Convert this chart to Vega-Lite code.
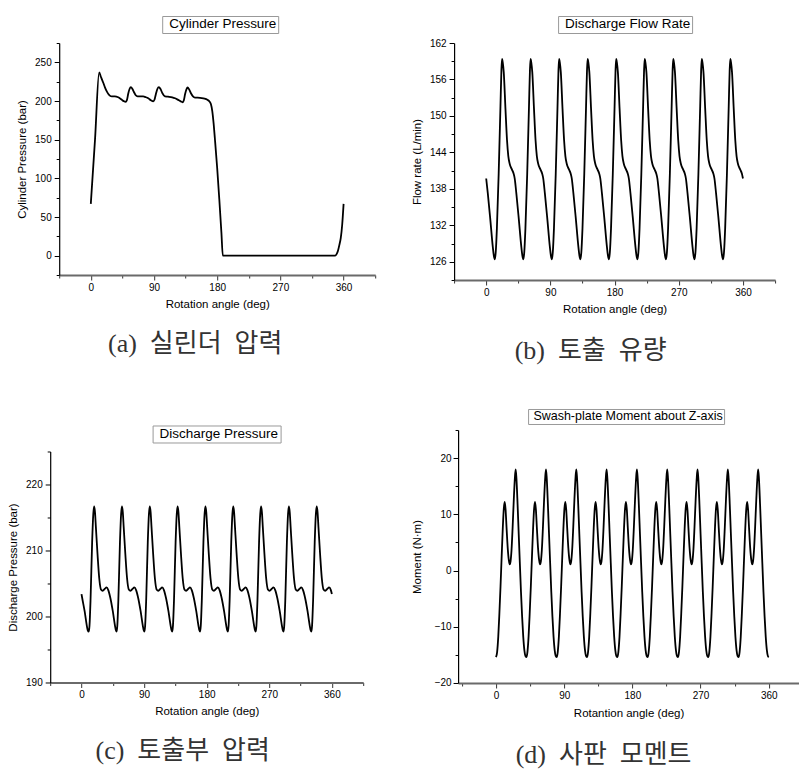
{
"$schema": "https://vega.github.io/schema/vega-lite/v6.json",
"background": "#ffffff",
"padding": {"left": 1.2, "top": 15, "right": 0, "bottom": 0},
"config": {
 "view": {"stroke": null},
 "font": "Liberation Sans",
 "axis": {"grid": false, "labelFont": "Liberation Sans", "labelFontSize": 10, "labelColor": "#000000", "titleFont": "Liberation Sans", "titleFontSize": 11.5, "titleFontWeight": "normal", "titleColor": "#000000", "labelOverlap": false, "labelFlush": false},
 "title": {"font": "Liberation Serif, Noto Sans CJK KR", "fontSize": 26, "fontWeight": "normal", "color": "#333333", "orient": "bottom", "anchor": "middle", "frame": "group"}
},
"datasets": {
"a": [{"x":0,"y":67},{"x":6,"y":150},{"x":11.9,"y":237},{"x":14.5,"y":231},{"x":17.6,"y":224},{"x":20,"y":218},{"x":22.4,"y":213},{"x":25,"y":209},{"x":27.1,"y":207},{"x":30,"y":206},{"x":34.2,"y":206},{"x":39,"y":204.8},{"x":43.8,"y":201.8},{"x":47,"y":199.8},{"x":49.5,"y":199},{"x":51.5,"y":201.5},{"x":53.2,"y":209},{"x":55.2,"y":215.5},{"x":57.1,"y":218},{"x":59.3,"y":215.5},{"x":61.8,"y":211},{"x":64,"y":207.5},{"x":66.6,"y":206},{"x":70,"y":206},{"x":74.6,"y":206},{"x":78,"y":205},{"x":81.8,"y":203.5},{"x":85.5,"y":201},{"x":88.9,"y":199.6},{"x":90.8,"y":202},{"x":92.7,"y":209},{"x":94.8,"y":215.5},{"x":97,"y":218},{"x":99.3,"y":215.5},{"x":102,"y":210},{"x":105.6,"y":206},{"x":110,"y":205.6},{"x":116,"y":204.8},{"x":120,"y":203.5},{"x":123.7,"y":201.8},{"x":127.5,"y":199.8},{"x":130.8,"y":198.4},{"x":132.5,"y":201},{"x":134.3,"y":209},{"x":136.2,"y":215},{"x":137.9,"y":217.5},{"x":140,"y":215},{"x":142.6,"y":210},{"x":145.5,"y":206},{"x":148.4,"y":204.4},{"x":152,"y":204.3},{"x":158,"y":203.8},{"x":162,"y":203},{"x":166,"y":201.5},{"x":169,"y":199.5},{"x":171,"y":196},{"x":173,"y":187},{"x":175,"y":170},{"x":177,"y":148},{"x":180,"y":113},{"x":183,"y":73},{"x":186,"y":30},{"x":188,"y":0},{"x":348,"y":0},{"x":350,"y":2},{"x":352,"y":6.5},{"x":354,"y":14},{"x":356,"y":23},{"x":358,"y":40},{"x":360,"y":67}],
"b": [{"x":0,"y":139.7},{"x":2.3,"y":137.2},{"x":5.5,"y":133.3},{"x":9.3,"y":128.4},{"x":10.7,"y":127},
{"x":12,"y":126.4},{"x":13.4,"y":127.6},{"x":15,"y":131.5},{"x":17.5,"y":140.5},{"x":20,"y":151.6},{"x":21.3,"y":157.4},{"x":22.2,"y":159.4},{"x":23.2,"y":158.8},{"x":24.6,"y":157.2},{"x":27,"y":151.2},{"x":29.2,"y":146},{"x":31,"y":143.4},{"x":33,"y":142.1},{"x":36,"y":141.2},{"x":38.5,"y":140.5},{"x":40,"y":139.7},{"x":42.3,"y":137.2},{"x":45.5,"y":133.3},{"x":49.3,"y":128.4},{"x":50.7,"y":127},
{"x":52,"y":126.4},{"x":53.4,"y":127.6},{"x":55,"y":131.5},{"x":57.5,"y":140.5},{"x":60,"y":151.6},{"x":61.3,"y":157.4},{"x":62.2,"y":159.4},{"x":63.2,"y":158.8},{"x":64.6,"y":157.2},{"x":67,"y":151.2},{"x":69.2,"y":146},{"x":71,"y":143.4},{"x":73,"y":142.1},{"x":76,"y":141.2},{"x":78.5,"y":140.5},{"x":80,"y":139.7},{"x":82.3,"y":137.2},{"x":85.5,"y":133.3},{"x":89.3,"y":128.4},{"x":90.7,"y":127},
{"x":92,"y":126.4},{"x":93.4,"y":127.6},{"x":95,"y":131.5},{"x":97.5,"y":140.5},{"x":100,"y":151.6},{"x":101.3,"y":157.4},{"x":102.2,"y":159.4},{"x":103.2,"y":158.8},{"x":104.6,"y":157.2},{"x":107,"y":151.2},{"x":109.2,"y":146},{"x":111,"y":143.4},{"x":113,"y":142.1},{"x":116,"y":141.2},{"x":118.5,"y":140.5},{"x":120,"y":139.7},{"x":122.3,"y":137.2},{"x":125.5,"y":133.3},{"x":129.3,"y":128.4},{"x":130.7,"y":127},
{"x":132,"y":126.4},{"x":133.4,"y":127.6},{"x":135,"y":131.5},{"x":137.5,"y":140.5},{"x":140,"y":151.6},{"x":141.3,"y":157.4},{"x":142.2,"y":159.4},{"x":143.2,"y":158.8},{"x":144.6,"y":157.2},{"x":147,"y":151.2},{"x":149.2,"y":146},{"x":151,"y":143.4},{"x":153,"y":142.1},{"x":156,"y":141.2},{"x":158.5,"y":140.5},{"x":160,"y":139.7},{"x":162.3,"y":137.2},{"x":165.5,"y":133.3},{"x":169.3,"y":128.4},{"x":170.7,"y":127},
{"x":172,"y":126.4},{"x":173.4,"y":127.6},{"x":175,"y":131.5},{"x":177.5,"y":140.5},{"x":180,"y":151.6},{"x":181.3,"y":157.4},{"x":182.2,"y":159.4},{"x":183.2,"y":158.8},{"x":184.6,"y":157.2},{"x":187,"y":151.2},{"x":189.2,"y":146},{"x":191,"y":143.4},{"x":193,"y":142.1},{"x":196,"y":141.2},{"x":198.5,"y":140.5},{"x":200,"y":139.7},{"x":202.3,"y":137.2},{"x":205.5,"y":133.3},{"x":209.3,"y":128.4},{"x":210.7,"y":127},
{"x":212,"y":126.4},{"x":213.4,"y":127.6},{"x":215,"y":131.5},{"x":217.5,"y":140.5},{"x":220,"y":151.6},{"x":221.3,"y":157.4},{"x":222.2,"y":159.4},{"x":223.2,"y":158.8},{"x":224.6,"y":157.2},{"x":227,"y":151.2},{"x":229.2,"y":146},{"x":231,"y":143.4},{"x":233,"y":142.1},{"x":236,"y":141.2},{"x":238.5,"y":140.5},{"x":240,"y":139.7},{"x":242.3,"y":137.2},{"x":245.5,"y":133.3},{"x":249.3,"y":128.4},{"x":250.7,"y":127},
{"x":252,"y":126.4},{"x":253.4,"y":127.6},{"x":255,"y":131.5},{"x":257.5,"y":140.5},{"x":260,"y":151.6},{"x":261.3,"y":157.4},{"x":262.2,"y":159.4},{"x":263.2,"y":158.8},{"x":264.6,"y":157.2},{"x":267,"y":151.2},{"x":269.2,"y":146},{"x":271,"y":143.4},{"x":273,"y":142.1},{"x":276,"y":141.2},{"x":278.5,"y":140.5},{"x":280,"y":139.7},{"x":282.3,"y":137.2},{"x":285.5,"y":133.3},{"x":289.3,"y":128.4},{"x":290.7,"y":127},
{"x":292,"y":126.4},{"x":293.4,"y":127.6},{"x":295,"y":131.5},{"x":297.5,"y":140.5},{"x":300,"y":151.6},{"x":301.3,"y":157.4},{"x":302.2,"y":159.4},{"x":303.2,"y":158.8},{"x":304.6,"y":157.2},{"x":307,"y":151.2},{"x":309.2,"y":146},{"x":311,"y":143.4},{"x":313,"y":142.1},{"x":316,"y":141.2},{"x":318.5,"y":140.5},{"x":320,"y":139.7},{"x":322.3,"y":137.2},{"x":325.5,"y":133.3},{"x":329.3,"y":128.4},{"x":330.7,"y":127},
{"x":332,"y":126.4},{"x":333.4,"y":127.6},{"x":335,"y":131.5},{"x":337.5,"y":140.5},{"x":340,"y":151.6},{"x":341.3,"y":157.4},{"x":342.2,"y":159.4},{"x":343.2,"y":158.8},{"x":344.6,"y":157.2},{"x":347,"y":151.2},{"x":349.2,"y":146},{"x":351,"y":143.4},{"x":353,"y":142.1},{"x":356,"y":141.2},{"x":358.5,"y":140.5},{"x":360,"y":139.7}],
"c": [{"x":0,"y":203.4},{"x":1,"y":202.8},{"x":4.5,"y":200.8},{"x":8,"y":198.4},{"x":9,"y":197.9},
{"x":10.5,"y":197.7},{"x":11.5,"y":198.6},{"x":13,"y":202.5},{"x":15.3,"y":211.3},{"x":17,"y":215.6},{"x":18.2,"y":216.7},{"x":19.4,"y":215.8},{"x":20.7,"y":213.5},{"x":23,"y":209.5},{"x":25.5,"y":205.8},{"x":28,"y":204.1},{"x":30.5,"y":203.9},{"x":33.5,"y":204.2},{"x":36,"y":204.4},{"x":38.5,"y":204},{"x":41.5,"y":202.8},{"x":45,"y":200.8},{"x":48.5,"y":198.4},{"x":49.5,"y":197.9},
{"x":50.5,"y":197.7},{"x":51.5,"y":198.6},{"x":53,"y":202.5},{"x":55.3,"y":211.3},{"x":57,"y":215.6},{"x":58.2,"y":216.7},{"x":59.4,"y":215.8},{"x":60.7,"y":213.5},{"x":63,"y":209.5},{"x":65.5,"y":205.8},{"x":68,"y":204.1},{"x":70.5,"y":203.9},{"x":73.5,"y":204.2},{"x":76,"y":204.4},{"x":78.5,"y":204},{"x":81.5,"y":202.8},{"x":85,"y":200.8},{"x":88.5,"y":198.4},{"x":89.5,"y":197.9},
{"x":90.5,"y":197.7},{"x":91.5,"y":198.6},{"x":93,"y":202.5},{"x":95.3,"y":211.3},{"x":97,"y":215.6},{"x":98.2,"y":216.7},{"x":99.4,"y":215.8},{"x":100.7,"y":213.5},{"x":103,"y":209.5},{"x":105.5,"y":205.8},{"x":108,"y":204.1},{"x":110.5,"y":203.9},{"x":113.5,"y":204.2},{"x":116,"y":204.4},{"x":118.5,"y":204},{"x":121.5,"y":202.8},{"x":125,"y":200.8},{"x":128.5,"y":198.4},{"x":129.5,"y":197.9},
{"x":130.5,"y":197.7},{"x":131.5,"y":198.6},{"x":133,"y":202.5},{"x":135.3,"y":211.3},{"x":137,"y":215.6},{"x":138.2,"y":216.7},{"x":139.4,"y":215.8},{"x":140.7,"y":213.5},{"x":143,"y":209.5},{"x":145.5,"y":205.8},{"x":148,"y":204.1},{"x":150.5,"y":203.9},{"x":153.5,"y":204.2},{"x":156,"y":204.4},{"x":158.5,"y":204},{"x":161.5,"y":202.8},{"x":165,"y":200.8},{"x":168.5,"y":198.4},{"x":169.5,"y":197.9},
{"x":170.5,"y":197.7},{"x":171.5,"y":198.6},{"x":173,"y":202.5},{"x":175.3,"y":211.3},{"x":177,"y":215.6},{"x":178.2,"y":216.7},{"x":179.4,"y":215.8},{"x":180.7,"y":213.5},{"x":183,"y":209.5},{"x":185.5,"y":205.8},{"x":188,"y":204.1},{"x":190.5,"y":203.9},{"x":193.5,"y":204.2},{"x":196,"y":204.4},{"x":198.5,"y":204},{"x":201.5,"y":202.8},{"x":205,"y":200.8},{"x":208.5,"y":198.4},{"x":209.5,"y":197.9},
{"x":210.5,"y":197.7},{"x":211.5,"y":198.6},{"x":213,"y":202.5},{"x":215.3,"y":211.3},{"x":217,"y":215.6},{"x":218.2,"y":216.7},{"x":219.4,"y":215.8},{"x":220.7,"y":213.5},{"x":223,"y":209.5},{"x":225.5,"y":205.8},{"x":228,"y":204.1},{"x":230.5,"y":203.9},{"x":233.5,"y":204.2},{"x":236,"y":204.4},{"x":238.5,"y":204},{"x":241.5,"y":202.8},{"x":245,"y":200.8},{"x":248.5,"y":198.4},{"x":249.5,"y":197.9},
{"x":250.5,"y":197.7},{"x":251.5,"y":198.6},{"x":253,"y":202.5},{"x":255.3,"y":211.3},{"x":257,"y":215.6},{"x":258.2,"y":216.7},{"x":259.4,"y":215.8},{"x":260.7,"y":213.5},{"x":263,"y":209.5},{"x":265.5,"y":205.8},{"x":268,"y":204.1},{"x":270.5,"y":203.9},{"x":273.5,"y":204.2},{"x":276,"y":204.4},{"x":278.5,"y":204},{"x":281.5,"y":202.8},{"x":285,"y":200.8},{"x":288.5,"y":198.4},{"x":289.5,"y":197.9},
{"x":290.5,"y":197.7},{"x":291.5,"y":198.6},{"x":293,"y":202.5},{"x":295.3,"y":211.3},{"x":297,"y":215.6},{"x":298.2,"y":216.7},{"x":299.4,"y":215.8},{"x":300.7,"y":213.5},{"x":303,"y":209.5},{"x":305.5,"y":205.8},{"x":308,"y":204.1},{"x":310.5,"y":203.9},{"x":313.5,"y":204.2},{"x":316,"y":204.4},{"x":318.5,"y":204},{"x":321.5,"y":202.8},{"x":325,"y":200.8},{"x":328.5,"y":198.4},{"x":329.5,"y":197.9},
{"x":330.5,"y":197.7},{"x":331.5,"y":198.6},{"x":333,"y":202.5},{"x":335.3,"y":211.3},{"x":337,"y":215.6},{"x":338.2,"y":216.7},{"x":339.4,"y":215.8},{"x":340.7,"y":213.5},{"x":343,"y":209.5},{"x":345.5,"y":205.8},{"x":348,"y":204.1},{"x":350.5,"y":203.9},{"x":353.5,"y":204.2},{"x":356,"y":204.4},{"x":358.5,"y":204},{"x":360,"y":203.4}],
"d": [{"x":0,"y":-15.4},{"x":1.5,"y":-14.5},{"x":3,"y":-11.8},{"x":4.5,"y":-7.6},{"x":6,"y":-2.8},{"x":7.5,"y":2.5},{"x":9,"y":7.6},{"x":10.3,"y":11},{"x":11.5,"y":12.2},{"x":12.6,"y":11},{"x":14,"y":7.5},{"x":15.5,"y":4},{"x":17,"y":1.8},{"x":18.1,"y":1.1},{"x":19.2,"y":1.6},{"x":20.5,"y":3.6},{"x":22,"y":7.8},{"x":23.5,"y":12.6},{"x":25,"y":16.6},{"x":26,"y":18},{"x":27,"y":16.4},{"x":28.5,"y":11.8},{"x":30,"y":6.5},{"x":31.5,"y":1.3},{"x":33,"y":-3.8},{"x":34.5,"y":-8.2},{"x":36,"y":-11.8},{"x":37.5,"y":-14.2},{"x":38.8,"y":-15.2},
{"x":40,"y":-15.4},{"x":41.5,"y":-14.5},{"x":43,"y":-11.8},{"x":44.5,"y":-7.6},{"x":46,"y":-2.8},{"x":47.5,"y":2.5},{"x":49,"y":7.6},{"x":50.3,"y":11},{"x":51.5,"y":12.2},{"x":52.6,"y":11},{"x":54,"y":7.5},{"x":55.5,"y":4},{"x":57,"y":1.8},{"x":58.1,"y":1.1},{"x":59.2,"y":1.6},{"x":60.5,"y":3.6},{"x":62,"y":7.8},{"x":63.5,"y":12.6},{"x":65,"y":16.6},{"x":66,"y":18},{"x":67,"y":16.4},{"x":68.5,"y":11.8},{"x":70,"y":6.5},{"x":71.5,"y":1.3},{"x":73,"y":-3.8},{"x":74.5,"y":-8.2},{"x":76,"y":-11.8},{"x":77.5,"y":-14.2},{"x":78.8,"y":-15.2},
{"x":80,"y":-15.4},{"x":81.5,"y":-14.5},{"x":83,"y":-11.8},{"x":84.5,"y":-7.6},{"x":86,"y":-2.8},{"x":87.5,"y":2.5},{"x":89,"y":7.6},{"x":90.3,"y":11},{"x":91.5,"y":12.2},{"x":92.6,"y":11},{"x":94,"y":7.5},{"x":95.5,"y":4},{"x":97,"y":1.8},{"x":98.1,"y":1.1},{"x":99.2,"y":1.6},{"x":100.5,"y":3.6},{"x":102,"y":7.8},{"x":103.5,"y":12.6},{"x":105,"y":16.6},{"x":106,"y":18},{"x":107,"y":16.4},{"x":108.5,"y":11.8},{"x":110,"y":6.5},{"x":111.5,"y":1.3},{"x":113,"y":-3.8},{"x":114.5,"y":-8.2},{"x":116,"y":-11.8},{"x":117.5,"y":-14.2},{"x":118.8,"y":-15.2},
{"x":120,"y":-15.4},{"x":121.5,"y":-14.5},{"x":123,"y":-11.8},{"x":124.5,"y":-7.6},{"x":126,"y":-2.8},{"x":127.5,"y":2.5},{"x":129,"y":7.6},{"x":130.3,"y":11},{"x":131.5,"y":12.2},{"x":132.6,"y":11},{"x":134,"y":7.5},{"x":135.5,"y":4},{"x":137,"y":1.8},{"x":138.1,"y":1.1},{"x":139.2,"y":1.6},{"x":140.5,"y":3.6},{"x":142,"y":7.8},{"x":143.5,"y":12.6},{"x":145,"y":16.6},{"x":146,"y":18},{"x":147,"y":16.4},{"x":148.5,"y":11.8},{"x":150,"y":6.5},{"x":151.5,"y":1.3},{"x":153,"y":-3.8},{"x":154.5,"y":-8.2},{"x":156,"y":-11.8},{"x":157.5,"y":-14.2},{"x":158.8,"y":-15.2},
{"x":160,"y":-15.4},{"x":161.5,"y":-14.5},{"x":163,"y":-11.8},{"x":164.5,"y":-7.6},{"x":166,"y":-2.8},{"x":167.5,"y":2.5},{"x":169,"y":7.6},{"x":170.3,"y":11},{"x":171.5,"y":12.2},{"x":172.6,"y":11},{"x":174,"y":7.5},{"x":175.5,"y":4},{"x":177,"y":1.8},{"x":178.1,"y":1.1},{"x":179.2,"y":1.6},{"x":180.5,"y":3.6},{"x":182,"y":7.8},{"x":183.5,"y":12.6},{"x":185,"y":16.6},{"x":186,"y":18},{"x":187,"y":16.4},{"x":188.5,"y":11.8},{"x":190,"y":6.5},{"x":191.5,"y":1.3},{"x":193,"y":-3.8},{"x":194.5,"y":-8.2},{"x":196,"y":-11.8},{"x":197.5,"y":-14.2},{"x":198.8,"y":-15.2},
{"x":200,"y":-15.4},{"x":201.5,"y":-14.5},{"x":203,"y":-11.8},{"x":204.5,"y":-7.6},{"x":206,"y":-2.8},{"x":207.5,"y":2.5},{"x":209,"y":7.6},{"x":210.3,"y":11},{"x":211.5,"y":12.2},{"x":212.6,"y":11},{"x":214,"y":7.5},{"x":215.5,"y":4},{"x":217,"y":1.8},{"x":218.1,"y":1.1},{"x":219.2,"y":1.6},{"x":220.5,"y":3.6},{"x":222,"y":7.8},{"x":223.5,"y":12.6},{"x":225,"y":16.6},{"x":226,"y":18},{"x":227,"y":16.4},{"x":228.5,"y":11.8},{"x":230,"y":6.5},{"x":231.5,"y":1.3},{"x":233,"y":-3.8},{"x":234.5,"y":-8.2},{"x":236,"y":-11.8},{"x":237.5,"y":-14.2},{"x":238.8,"y":-15.2},
{"x":240,"y":-15.4},{"x":241.5,"y":-14.5},{"x":243,"y":-11.8},{"x":244.5,"y":-7.6},{"x":246,"y":-2.8},{"x":247.5,"y":2.5},{"x":249,"y":7.6},{"x":250.3,"y":11},{"x":251.5,"y":12.2},{"x":252.6,"y":11},{"x":254,"y":7.5},{"x":255.5,"y":4},{"x":257,"y":1.8},{"x":258.1,"y":1.1},{"x":259.2,"y":1.6},{"x":260.5,"y":3.6},{"x":262,"y":7.8},{"x":263.5,"y":12.6},{"x":265,"y":16.6},{"x":266,"y":18},{"x":267,"y":16.4},{"x":268.5,"y":11.8},{"x":270,"y":6.5},{"x":271.5,"y":1.3},{"x":273,"y":-3.8},{"x":274.5,"y":-8.2},{"x":276,"y":-11.8},{"x":277.5,"y":-14.2},{"x":278.8,"y":-15.2},
{"x":280,"y":-15.4},{"x":281.5,"y":-14.5},{"x":283,"y":-11.8},{"x":284.5,"y":-7.6},{"x":286,"y":-2.8},{"x":287.5,"y":2.5},{"x":289,"y":7.6},{"x":290.3,"y":11},{"x":291.5,"y":12.2},{"x":292.6,"y":11},{"x":294,"y":7.5},{"x":295.5,"y":4},{"x":297,"y":1.8},{"x":298.1,"y":1.1},{"x":299.2,"y":1.6},{"x":300.5,"y":3.6},{"x":302,"y":7.8},{"x":303.5,"y":12.6},{"x":305,"y":16.6},{"x":306,"y":18},{"x":307,"y":16.4},{"x":308.5,"y":11.8},{"x":310,"y":6.5},{"x":311.5,"y":1.3},{"x":313,"y":-3.8},{"x":314.5,"y":-8.2},{"x":316,"y":-11.8},{"x":317.5,"y":-14.2},{"x":318.8,"y":-15.2},
{"x":320,"y":-15.4},{"x":321.5,"y":-14.5},{"x":323,"y":-11.8},{"x":324.5,"y":-7.6},{"x":326,"y":-2.8},{"x":327.5,"y":2.5},{"x":329,"y":7.6},{"x":330.3,"y":11},{"x":331.5,"y":12.2},{"x":332.6,"y":11},{"x":334,"y":7.5},{"x":335.5,"y":4},{"x":337,"y":1.8},{"x":338.1,"y":1.1},{"x":339.2,"y":1.6},{"x":340.5,"y":3.6},{"x":342,"y":7.8},{"x":343.5,"y":12.6},{"x":345,"y":16.6},{"x":346,"y":18},{"x":347,"y":16.4},{"x":348.5,"y":11.8},{"x":350,"y":6.5},{"x":351.5,"y":1.3},{"x":353,"y":-3.8},{"x":354.5,"y":-8.2},{"x":356,"y":-11.8},{"x":357.5,"y":-14.2},{"x":358.8,"y":-15.2},
{"x":360,"y":-15.4}]
},
"resolve": {"scale": {"color": "independent"}, "legend": {"color": "independent"}},
"spacing": 32.9,
"hconcat": [
 {"spacing": 67.5, "resolve": {"scale": {"color": "independent"}, "legend": {"color": "independent"}},
  "vconcat": [
  {"spacing": 0, "resolve": {"scale": {"color": "independent"}, "legend": {"color": "independent"}}, "hconcat": [
  {"width": 14.3, "height": 1, "data": {"values": [{}]}, "mark": {"type": "point", "opacity": 0, "size": 0, "strokeWidth": 0, "filled": true}, "encoding": {}},
  {"width": 316, "height": 232,
   "title": {"text": "(a)\u2002실린더\u2002압력", "offset": 21, "dx": -22},
   "data": {"name": "a"},
   "mark": {"type": "line", "interpolate": "monotone", "strokeWidth": 1.8, "clip": true},
   "encoding": {
    "x": {"field": "x", "type": "quantitative", "scale": {"domain": [-45, 405], "nice": false, "zero": false},
      "axis": {"title": "Rotation angle (deg)", "values": [-45,0,45,90,135,180,225,270,315,360,405], "labelExpr": "datum.value % 90 === 0 ? datum.label : ''", "tickSize": {"condition": {"test": "datum.value % 90 === 0", "value": 5}, "value": 3}, "domainColor": "#6a6a6a", "domainWidth": 2, "tickColor": "#333333", "labelPadding": 2, "titlePadding": 6}},
    "y": {"field": "y", "type": "quantitative", "scale": {"domain": [-25, 275], "nice": false, "zero": false},
      "axis": {"title": "Cylinder Pressure (bar)", "values": [-25,0,25,50,75,100,125,150,175,200,225,250,275], "labelExpr": "datum.value % 50 === 0 ? datum.label : ''", "tickSize": {"condition": {"test": "datum.value % 50 === 0", "value": 5}, "value": 3}, "domainColor": "#000000", "domainWidth": 1.2, "tickColor": "#000000", "labelPadding": 3, "titlePadding": 7}},
    "color": {"datum": "Cylinder Pressure", "scale": {"range": ["#000000"]},
      "legend": {"title": null, "orient": "none", "legendX": 103, "legendY": -27, "symbolSize": 0, "symbolOpacity": 0, "symbolStrokeWidth": 0, "labelOffset": -8, "padding": 1.5, "strokeColor": "#999999", "fillColor": "#ffffff", "labelFont": "Liberation Sans", "labelFontSize": 13.5, "labelColor": "#000000", "labelLimit": 400}}
   }}
  ]},
  {"spacing": 0, "resolve": {"scale": {"color": "independent"}, "legend": {"color": "independent"}}, "hconcat": [
  {"width": 5.6, "height": 1, "data": {"values": [{}]}, "mark": {"type": "point", "opacity": 0, "size": 0, "strokeWidth": 0, "filled": true}, "encoding": {}},
  {"width": 313, "height": 231,
   "title": {"text": "(c)\u2002토출부\u2002압력", "offset": 21, "dx": -24},
   "data": {"name": "c"},
   "mark": {"type": "line", "interpolate": "monotone", "strokeWidth": 1.8, "clip": true},
   "encoding": {
    "x": {"field": "x", "type": "quantitative", "scale": {"domain": [-45, 405], "nice": false, "zero": false},
      "axis": {"title": "Rotation angle (deg)", "values": [-45,0,45,90,135,180,225,270,315,360,405], "labelExpr": "datum.value % 90 === 0 ? datum.label : ''", "tickSize": {"condition": {"test": "datum.value % 90 === 0", "value": 5}, "value": 3}, "domainColor": "#6a6a6a", "domainWidth": 2, "tickColor": "#333333", "labelPadding": 2, "titlePadding": 6}},
    "y": {"field": "y", "type": "quantitative", "scale": {"domain": [190, 225], "nice": false, "zero": false},
      "axis": {"title": "Discharge Pressure (bar)", "values": [190,195,200,205,210,215,220,225], "labelExpr": "datum.value % 10 === 0 ? datum.label : ''", "tickSize": {"condition": {"test": "datum.value % 10 === 0", "value": 5}, "value": 3}, "domainColor": "#000000", "domainWidth": 1.2, "tickColor": "#000000", "labelPadding": 3, "titlePadding": 7}},
    "color": {"datum": "Discharge Pressure", "scale": {"range": ["#000000"]},
      "legend": {"title": null, "orient": "none", "legendX": 102.4, "legendY": -26, "symbolSize": 0, "symbolOpacity": 0, "symbolStrokeWidth": 0, "labelOffset": -8, "padding": 1.5, "strokeColor": "#999999", "fillColor": "#ffffff", "labelFont": "Liberation Sans", "labelFontSize": 13.5, "labelColor": "#000000", "labelLimit": 400}}
   }}
  ]}
 ]},
 {"spacing": 44, "resolve": {"scale": {"color": "independent"}, "legend": {"color": "independent"}},
  "vconcat": [
  {"spacing": 0, "resolve": {"scale": {"color": "independent"}, "legend": {"color": "independent"}}, "hconcat": [
  {"width": 2, "height": 1, "data": {"values": [{}]}, "mark": {"type": "point", "opacity": 0, "size": 0, "strokeWidth": 0, "filled": true}, "encoding": {}},
  {"width": 321, "height": 237,
   "title": {"text": "(b)\u2002토출\u2002유량", "offset": 23, "dx": -24},
   "data": {"name": "b"},
   "mark": {"type": "line", "interpolate": "monotone", "strokeWidth": 1.8, "clip": true},
   "encoding": {
    "x": {"field": "x", "type": "quantitative", "scale": {"domain": [-45, 405], "nice": false, "zero": false},
      "axis": {"title": "Rotation angle (deg)", "values": [-45,0,45,90,135,180,225,270,315,360,405], "labelExpr": "datum.value % 90 === 0 ? datum.label : ''", "tickSize": {"condition": {"test": "datum.value % 90 === 0", "value": 5}, "value": 3}, "domainColor": "#6a6a6a", "domainWidth": 2, "tickColor": "#333333", "labelPadding": 2, "titlePadding": 6}},
    "y": {"field": "y", "type": "quantitative", "scale": {"domain": [123, 162], "nice": false, "zero": false},
      "axis": {"title": "Flow rate (L/min)", "values": [123,126,129,132,135,138,141,144,147,150,153,156,159,162], "labelExpr": "(datum.value - 126) % 6 === 0 ? datum.label : ''", "tickSize": {"condition": {"test": "(datum.value - 126) % 6 === 0", "value": 5}, "value": 3}, "domainColor": "#000000", "domainWidth": 1.2, "tickColor": "#000000", "labelPadding": 3, "titlePadding": 7}},
    "color": {"datum": "Discharge Flow Rate", "scale": {"range": ["#000000"]},
      "legend": {"title": null, "orient": "none", "legendX": 104, "legendY": -27, "symbolSize": 0, "symbolOpacity": 0, "symbolStrokeWidth": 0, "labelOffset": -8, "padding": 1.5, "strokeColor": "#999999", "fillColor": "#ffffff", "labelFont": "Liberation Sans", "labelFontSize": 13.5, "labelColor": "#000000", "labelLimit": 400}}
   }}
  ]},
  {"spacing": 0, "resolve": {"scale": {"color": "independent"}, "legend": {"color": "independent"}}, "hconcat": [
  {"width": 1.8, "height": 1, "data": {"values": [{}]}, "mark": {"type": "point", "opacity": 0, "size": 0, "strokeWidth": 0, "filled": true}, "encoding": {}},
  {"width": 341, "height": 253,
   "title": {"text": "(d)\u2002사판\u2002모멘트", "offset": 23, "dx": -25},
   "data": {"name": "d"},
   "mark": {"type": "line", "interpolate": "monotone", "strokeWidth": 1.8, "clip": true},
   "encoding": {
    "x": {"field": "x", "type": "quantitative", "scale": {"domain": [-50, 400], "nice": false, "zero": false},
      "axis": {"title": "Rotantion angle (deg)", "values": [-45,0,45,90,135,180,225,270,315,360], "labelExpr": "datum.value % 90 === 0 ? datum.label : ''", "tickSize": {"condition": {"test": "datum.value % 90 === 0", "value": 5}, "value": 3}, "domainColor": "#6a6a6a", "domainWidth": 2, "tickColor": "#333333", "labelPadding": 3, "titlePadding": 7}},
    "y": {"field": "y", "type": "quantitative", "scale": {"domain": [-20, 25], "nice": false, "zero": false},
      "axis": {"title": "Moment (N·m)", "values": [-20,-15,-10,-5,0,5,10,15,20,25], "labelExpr": "datum.value % 10 === 0 ? datum.label : ''", "tickSize": {"condition": {"test": "datum.value % 10 === 0", "value": 5}, "value": 3}, "domainColor": "#000000", "domainWidth": 1.2, "tickColor": "#000000", "labelPadding": 2, "titlePadding": 12}},
    "color": {"datum": "Swash-plate Moment about Z-axis", "scale": {"range": ["#000000"]},
      "legend": {"title": null, "orient": "none", "legendX": 70, "legendY": -21, "symbolSize": 0, "symbolOpacity": 0, "symbolStrokeWidth": 0, "labelOffset": -8, "padding": 0.8, "strokeColor": "#999999", "fillColor": "#ffffff", "labelFont": "Liberation Sans", "labelFontSize": 12.5, "labelColor": "#000000", "labelLimit": 400}}
   }}
  ]}
 ]}
]
}
